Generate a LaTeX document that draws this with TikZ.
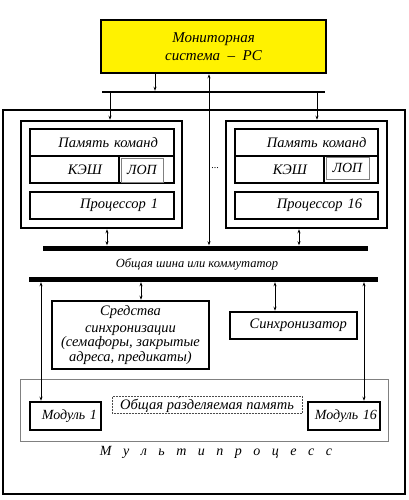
\documentclass[tikz,border=0pt]{standalone}
\usepackage{fontspec}
\setmainfont{Liberation Serif}
\usetikzlibrary{arrows.meta,positioning}
\tikzstyle{block} = [rectangle, draw=black, line width=2.5pt, inner sep=0pt, font=\fontsize{14.5}{16}\selectfont\itshape]
\tikzstyle{arrow} = [line width=0.7pt, -{Stealth[length=4pt,width=3pt]}]
\tikzstyle{darrow} = [line width=0.7pt, {Stealth[length=4pt,width=3pt]}-{Stealth[length=4pt,width=3pt]}]
\tikzstyle{bus} = [rectangle, fill=black, inner sep=0pt]
\tikzset{rtxt/.style={text width=#1, align=right}}
\newcommand{\gap}{\hspace{11.5pt}}

\begin{document}
\begin{tikzpicture}[x=1pt, y=-1pt]
    \useasboundingbox (0,0) rectangle (408,500);
    \tikzstyle{thin} = [rectangle, draw=gray, line width=0.6pt, inner sep=0pt]

    % Outer frame
    \node (multi) [draw, line width=1.8pt, minimum width=402, minimum height=384] at (204,302) {};

    % Monitor system and buses
    \node (mon) [block, fill=yellow, minimum width=225, minimum height=53, align=center, font=\fontsize{15}{18}\selectfont\itshape] at (213.5,46.5) {Мониторная\\система \ – \ PC};
    \node (topbus) [bus, minimum width=223, minimum height=2] at (213.5,92) {};
    \node (bus1) [bus, minimum width=325, minimum height=5] at (205.5,248) {};
    \node (bus2) [bus, minimum width=349, minimum height=5] at (203.5,279.5) {};
    \node (buslabel) [font=\fontsize{12.5}{14}\selectfont\itshape] at (197,264) {Общая шина или коммутатор};

    % Processor 1
    \node (p1) [block, minimum width=161, minimum height=107] at (101.5,174.5) {};
    \node (cmd1) [block, minimum width=144, minimum height=27, rtxt=112] at (102,142.5) {Память команд};
    \node (kesh1) [block, minimum width=89, minimum height=27, rtxt=55] at (74.5,169.5) {КЭШ};
    \node (lopc1) [block, minimum width=55, minimum height=27] at (146.5,169.5) {};
    \node (lop1) [thin, minimum width=42, minimum height=24, font=\fontsize{14}{16}\selectfont\itshape] at (142,170) {ЛОП};
    \node (cpu1) [block, minimum width=144, minimum height=27, rtxt=112] at (102,205.5) {Процессор 1};

    \node (dots) at (215,168) {...};

    % Processor 16
    \node (p16) [block, minimum width=161, minimum height=107] at (306.5,174.5) {};
    \node (cmd16) [block, minimum width=143, minimum height=27, rtxt=120] at (306.5,142.5) {Память команд};
    \node (kesh16) [block, minimum width=89, minimum height=27, rtxt=55] at (279.5,169.5) {КЭШ};
    \node (lopc16) [block, minimum width=54, minimum height=27] at (351,169.5) {};
    \node (lop16) [thin, minimum width=43, minimum height=22, font=\fontsize{14}{16}\selectfont\itshape] at (347.5,168) {ЛОП};
    \node (cpu16) [block, minimum width=143, minimum height=27, rtxt=111] at (306.5,205.5) {Процессор 16};

    % Synchronisation
    \node (sredstva) [block, minimum width=157, minimum height=68, align=center, font=\fontsize{14.5}{14.5}\selectfont\itshape] at (130.5,335) {Средства\\[2pt]синхронизации\\(семафоры, закрытые\\адреса, предикаты)};
    \node (sync) [block, minimum width=127, minimum height=27, rtxt=107] at (293.5,325.5) {Синхронизатор};

    % Shared memory
    \node (mem) [thin, line width=0.8pt, minimum width=368, minimum height=62] at (204,410) {};
    \node (mod1) [block, minimum width=71, minimum height=28, rtxt=63, font=\fontsize{14}{16}\selectfont\itshape] at (65.5,416) {Модуль 1};
    \node (mod16) [block, minimum width=72, minimum height=28, rtxt=66, font=\fontsize{14}{16}\selectfont\itshape] at (344,416) {Модуль 16};
    \node (shared) [draw=black!70, densely dotted, line width=0.5pt, minimum width=190, minimum height=17, inner sep=0pt, font=\fontsize{14.5}{16}\selectfont\itshape] at (207,404.5) {Общая ра́зделяемая память};
    \node (mlabel) [font=\fontsize{14}{16}\selectfont\itshape] at (216,452) {М\gap у\gap л\gap ь\gap т\gap и\gap п\gap р\gap о\gap ц\gap е\gap с\gap с};

    % Arrows
    \coordinate (xmon) at (155,0);
    \coordinate (xlink) at (209,0);
    \coordinate (xin1) at (110,0);
    \coordinate (xin16) at (317,0);
    \coordinate (xp1) at (107,0);
    \coordinate (xp16) at (299,0);
    \coordinate (xm1) at (41,0);
    \coordinate (xsr) at (141,0);
    \coordinate (xsy) at (275,0);
    \coordinate (xm16) at (364,0);
    \draw[arrow] (mon.south -| xmon) -- (topbus.north -| xmon);
    \draw[arrow] (topbus.south -| xin1) -- (p1.north -| xin1);
    \draw[arrow] (topbus.south -| xin16) -- (p16.north -| xin16);
    \draw[darrow] (mon.south -| xlink) -- (bus1.north -| xlink);
    \draw[darrow] (p1.south -| xp1) -- (bus1.north -| xp1);
    \draw[darrow] (p16.south -| xp16) -- (bus1.north -| xp16);
    \draw[darrow] (bus2.south -| xm1) -- (mod1.north -| xm1);
    \draw[darrow] (bus2.south -| xsr) -- (sredstva.north -| xsr);
    \draw[darrow] (bus2.south -| xsy) -- (sync.north -| xsy);
    \draw[darrow] (bus2.south -| xm16) -- (mod16.north -| xm16);

\end{tikzpicture}
\end{document}
